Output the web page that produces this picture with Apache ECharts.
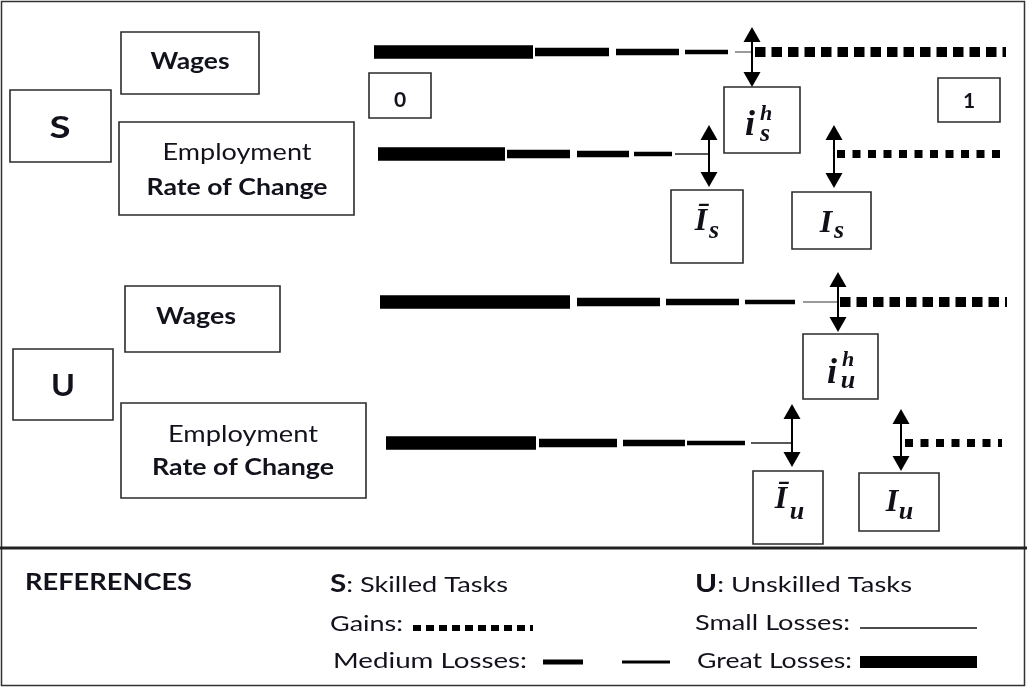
<!DOCTYPE html>
<html lang="en">
<head>
<meta charset="utf-8">
<title>Wages and employment by task</title>
<script src="https://cdn.jsdelivr.net/npm/echarts@6.0.0/dist/echarts.min.js"></script>
<style>
  html, body { margin: 0; padding: 0; background: #fff; }
  #chart { width: 1027px; height: 688px; }
</style>
</head>
<body>
<div id="chart"></div>
<script>
// rows of the diagram, task index runs left (0) to right (1)
var rowNames = ['S wages', 'S employment', 'U wages', 'U employment'];
var rowLevel = [52, 154, 302, 443];

// extent of each kind of change along every row (diagram units)
var greatLosses = [[374, 533], [378, 505], [380, 570], [386, 536]];
var mediumLosses = [
    [[535, 609], [616, 679], [685, 728]],
    [[507, 570], [577, 629], [634, 672]],
    [[577, 660], [666, 739], [745, 795]],
    [[539, 617], [623, 685], [687, 745]]
];
var smallLosses = [[735, 752], [675, 709], [803, 838], [751, 792]];
var gains = [[755, 1006], [837, 1003], [840, 1007], [905, 1002]];

// threshold markers: x, top, bottom
var thresholdArrows = [
    [752, 27, 87],    // i_s^h
    [709, 125, 187],  // Ī_s
    [834, 125, 188],  // I_s
    [838, 272, 332],  // i_u^h
    [792, 404, 467],  // Ī_u
    [901, 409, 471]   // I_u
];

var segments = [];
rowNames.forEach(function (name, r) {
    var y = rowLevel[r];
    segments.push([greatLosses[r][0], greatLosses[r][1], y, 0, r]);
    mediumLosses[r].forEach(function (m, k) {
        segments.push([m[0], m[1], y, k + 1, r]);
    });
    segments.push([smallLosses[r][0], smallLosses[r][1], y, 4, r]);
    segments.push([gains[r][0], gains[r][1], y, 5, r]);
});

function segStyle(kind, row) {
    var wages = row % 2 === 0;
    if (kind === 0) return { stroke: '#000', lineWidth: 13.5 };
    if (kind === 1) return { stroke: '#000', lineWidth: 8.5 };
    if (kind === 2) return { stroke: '#000', lineWidth: 6.5 };
    if (kind === 3) return { stroke: '#000', lineWidth: 4.5 };
    if (kind === 4) return { stroke: wages ? '#9a9a9a' : '#222', lineWidth: wages ? 2 : 1.5 };
    return { stroke: '#000', lineWidth: wages ? 10 : 8, lineDash: wages ? [10.5, 6] : [8, 7.5] };
}

// text helpers
var measureCtx = document.createElement('canvas').getContext('2d');
var SANS = 'Lato';
var SERIF = 'Liberation Serif';
function natWidth(str, size, weight, family, fstyle) {
    measureCtx.font = (fstyle || 'normal') + ' ' + (weight || 'normal') + ' ' + size + 'px "' + family + '"';
    return measureCtx.measureText(str).width;
}
function label(str, x, y, o) {
    var family = o.family || SANS;
    var nat = natWidth(str, o.size, o.weight, family, o.fstyle);
    var sx = o.w ? o.w / nat : 1;
    return {
        type: 'text', x: x, y: y, scaleX: sx, silent: true,
        style: {
            text: str, x: 0, y: 0,
            fontSize: o.size, fontWeight: o.weight || 'normal',
            fontFamily: family, fontStyle: o.fstyle || 'normal',
            fill: o.color || '#12121c',
            align: o.align || 'center', textAlign: o.align || 'center',
            verticalAlign: 'middle', textVerticalAlign: 'middle'
        }
    };
}
// bold head + regular tail, stretched together to a width
function pair(head, tail, x, y, w) {
    var a = natWidth(head, 24, 'bold', SANS);
    var b = natWidth(tail, 22, 'normal', SANS);
    var s = w / (a + b);
    return [
        label(head, x, y, { size: 24, weight: 'bold', align: 'left', w: a * s }),
        label(tail, x + a * s, y + 1, { size: 22, align: 'left', w: b * s })
    ];
}
function box(x, y, w, h) {
    return {
        type: 'rect', silent: true,
        shape: { x: x, y: y, width: w, height: h },
        style: { fill: '#fff', stroke: '#2b2b2b', lineWidth: 1.6 }
    };
}
function math(str, x, y, size) {
    return label(str, x, y, { size: size, weight: 'bold', fstyle: 'italic', family: SERIF, color: '#101018' });
}

var graphics = [
    // frame
    { type: 'rect', silent: true, shape: { x: 1.5, y: 1.5, width: 1023, height: 684 },
      style: { fill: null, stroke: '#333', lineWidth: 1.5 } },
    { type: 'line', silent: true, shape: { x1: 0, y1: 548, x2: 1027, y2: 548 },
      style: { stroke: '#222', lineWidth: 3 } },

    // row labels
    box(121, 32, 138, 62), box(10, 90, 101, 72), box(119, 122, 235, 93),
    box(125, 286, 155, 66), box(13, 349, 100, 71), box(121, 403, 245, 95),
    label('Wages', 190, 62, { size: 23, weight: 'bold', w: 79 }),
    label('S', 60, 128, { size: 30, weight: 'bold', w: 21 }),
    label('Employment', 237, 153, { size: 23, w: 149 }),
    label('Rate of Change', 237, 188, { size: 23, weight: 'bold', w: 181 }),
    label('Wages', 196, 317, { size: 23, weight: 'bold', w: 80 }),
    label('U', 63, 386, { size: 30, weight: 'bold', w: 24 }),
    label('Employment', 243, 435, { size: 23, w: 150 }),
    label('Rate of Change', 243, 468, { size: 23, weight: 'bold', w: 182 }),

    // end points of the task index
    box(369, 73, 62, 45), box(938, 78, 62, 44),
    label('0', 400, 100, { size: 21, weight: 'bold' }),
    label('1', 969, 101, { size: 21, weight: 'bold' }),

    // threshold labels
    box(724, 87, 76, 66), box(671, 190, 72, 73), box(792, 192, 79, 57),
    box(803, 334, 75, 65), box(753, 471, 70, 73), box(859, 473, 80, 58),
    math('i', 750, 126, 36), math('h', 766, 114, 22), math('s', 765, 134, 26),
    math('\u012A', 701, 222, 32), math('s', 714, 231, 26),
    math('I', 826, 224, 32), math('s', 839, 231, 26),
    math('i', 832, 374, 36), math('h', 848, 360, 22), math('u', 848, 381, 26),
    math('\u012A', 781, 500, 32), math('u', 797, 512, 26),
    math('I', 892, 503, 32), math('u', 906, 512, 26),

    // references
    label('REFERENCES', 25, 583, { size: 23, weight: 'bold', align: 'left', w: 167 }),
    label('Gains:', 330, 624, { size: 22, align: 'left', w: 73 }),
    label('Medium Losses:', 333, 661, { size: 22, align: 'left', w: 194 }),
    label('Small Losses:', 695, 623, { size: 22, align: 'left', w: 155 }),
    label('Great Losses:', 697, 661, { size: 22, align: 'left', w: 155 }),
    { type: 'line', silent: true, shape: { x1: 413, y1: 628, x2: 533, y2: 628 },
      style: { stroke: '#000', lineWidth: 6, lineDash: [8, 5] } },
    { type: 'line', silent: true, shape: { x1: 543, y1: 662, x2: 583, y2: 662 },
      style: { stroke: '#000', lineWidth: 5 } },
    { type: 'line', silent: true, shape: { x1: 622, y1: 662, x2: 670, y2: 662 },
      style: { stroke: '#000', lineWidth: 3 } },
    { type: 'line', silent: true, shape: { x1: 860, y1: 628, x2: 977, y2: 628 },
      style: { stroke: '#111', lineWidth: 1.4 } },
    { type: 'rect', silent: true, shape: { x: 860, y: 656, width: 117, height: 12 },
      style: { fill: '#000' } }
].concat(pair('S', ': Skilled Tasks', 330, 584, 178))
 .concat(pair('U', ': Unskilled Tasks', 695, 584, 217));

var chart = echarts.init(document.getElementById('chart'));
chart.setOption({
    animation: false,
    grid: { left: 0, right: 0, top: 0, bottom: 0 },
    xAxis: { type: 'value', min: 0, max: 1027, show: false },
    yAxis: { type: 'value', min: 0, max: 688, inverse: true, show: false },
    graphic: graphics,
    series: [{
        name: 'changes',
        type: 'custom',
        coordinateSystem: 'cartesian2d',
        silent: true,
        z: 5,
        data: segments,
        renderItem: function (params, api) {
            var a = api.coord([api.value(0), api.value(2)]);
            var b = api.coord([api.value(1), api.value(2)]);
            var st = segStyle(api.value(3), api.value(4));
            st.fill = null;
            st.lineCap = 'butt';
            return { type: 'line', shape: { x1: a[0], y1: a[1], x2: b[0], y2: b[1] }, style: st };
        }
    }, {
        name: 'thresholds',
        type: 'custom',
        coordinateSystem: 'cartesian2d',
        silent: true,
        z: 6,
        data: thresholdArrows,
        renderItem: function (params, api) {
            var t = api.coord([api.value(0), api.value(1)]);
            var b = api.coord([api.value(0), api.value(2)]);
            var x = t[0], h = 15, hw = 8.5;
            return {
                type: 'group',
                children: [
                    { type: 'line', shape: { x1: x, y1: t[1] + h - 1, x2: x, y2: b[1] - h + 1 },
                      style: { stroke: '#000', lineWidth: 2 } },
                    { type: 'polygon', shape: { points: [[x, t[1]], [x - hw, t[1] + h], [x + hw, t[1] + h]] },
                      style: { fill: '#000' } },
                    { type: 'polygon', shape: { points: [[x, b[1]], [x - hw, b[1] - h], [x + hw, b[1] - h]] },
                      style: { fill: '#000' } }
                ]
            };
        }
    }]
});
</script>
</body>
</html>
